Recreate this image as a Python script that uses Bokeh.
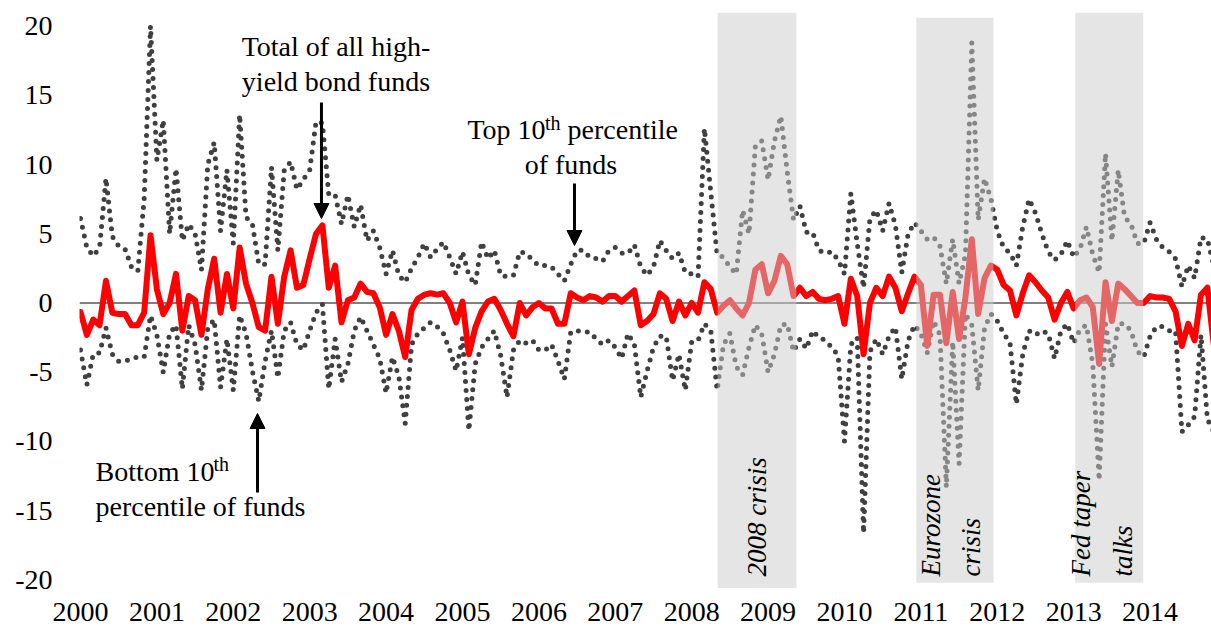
import numpy as np
from bokeh.plotting import figure
from bokeh.models import Range1d, FixedTicker, Span, Arrow, NormalHead
from bokeh.core.properties import value
from bokeh.embed import file_html
from bokeh.resources import INLINE

# ---------------- data (monthly, Jan 2000 onwards) ----------------
years = list(range(2000, 2015))
y_ticks = [-20, -15, -10, -5, 0, 5, 10, 15, 20]

total = [-0.65, -2.3, -1.2, -1.6, 1.6, -0.7, -0.8, -0.8, -1.6, -1.6,
         -0.7, 4.9, 1.0, -0.8, 0.0, 2.1, -2.0, 0.5, 0.2, -2.3,
         1.0, 3.2, -0.7, 2.1, -0.4, 4.0, 1.4, 0.0, -1.75, -2.0,
         1.9, -1.5, 1.9, 3.8, 1.1, 1.3, 3.2, 5.0, 5.6, 1.1,
         2.7, -1.4, 0.2, 0.4, 1.4, 0.8, 0.7, -0.3, -2.3, -0.8,
         -2.0, -3.9, -0.5, 0.3, 0.6, 0.7, 0.6, 0.7, 0.0, -1.4,
         0.1, -3.7, -1.8, -0.6, 0.1, 0.3, -0.5, -1.5, -2.4, 0.0,
         -0.9, -0.3, 0.0, -0.4, -0.4, -1.5, -1.5, 0.7, 0.4, 0.2,
         0.5, 0.4, 0.1, 0.5, 0.5, 0.1, 0.5, 0.9, -1.6, -1.3,
         -0.8, 0.7, 0.3, -1.3, 0.1, -0.9, 0.0, -0.7, 1.5, 1.0,
         -0.7, -0.2, 0.2, -0.4, -0.9, 0.0, 2.4, 2.8, 0.7, 1.6,
         3.4, 2.8, 0.5, 1.1, 0.5, 0.8, 0.3, 0.2, 0.3, 0.5,
         -1.5, 1.75, 0.5, -3.7, 0.0, 1.1, 0.5, 1.9, 1.1, -0.6,
         0.7, 1.9, 1.3, -3.1, 0.6, 0.6, -2.9, 0.8, -2.6, 0.4,
         4.6, -0.8, 1.8, 2.7, 2.4, 1.3, 0.9, -0.9, 0.7, 2.0,
         1.5, 0.9, 0.4, -1.2, 0.0, 0.8, -0.4, 0.2, 0.4, -0.3,
         -4.4, 1.5, -1.3, 1.4, 1.0, 0.5, 0.0, 0.0, 0.5, 0.4,
         0.4, 0.3, -0.6, -3.1, -1.5, -2.7, 0.6, 1.1, -3.0]

top10 = [6.1, 4.0, 3.4, 4.0, 9.0, 4.8, 4.1, 3.9, 2.6, 2.3,
         7.5, 20.0, 10.3, 13.2, 5.0, 9.7, 4.5, 5.7, 5.0, 2.4,
         10.0, 11.6, 5.2, 9.6, 4.3, 13.6, 6.2, 5.7, 2.8, 2.8,
         9.8, 3.8, 9.6, 10.2, 8.2, 8.9, 9.6, 13.1, 13.0, 7.8,
         7.8, 5.7, 7.8, 5.5, 7.1, 4.5, 5.2, 4.0, 2.1, 3.8,
         2.0, 1.5, 2.5, 3.3, 4.3, 3.3, 3.9, 4.4, 3.3, 2.1,
         3.7, 2.0, 1.3, 4.4, 3.2, 3.8, 2.0, 1.9, 2.0, 3.7,
         3.6, 3.1, 2.7, 2.7, 2.6, 2.1, 1.6, 2.8, 3.8, 3.8,
         3.3, 3.2, 3.0, 3.8, 4.0, 3.6, 3.6, 4.2, 2.6, 2.0,
         2.6, 4.5, 3.8, 3.2, 3.6, 2.2, 2.1, 1.9, 12.6, 8.0,
         3.5, 3.3, 2.6, 2.1, 6.7, 5.0, 11.3, 11.7, 8.9, 11.7,
         13.5, 9.5, 6.0, 7.0, 5.1, 5.1, 3.8, 3.6, 3.7, 3.1,
         2.1, 7.9, 4.3, 1.1, 6.1, 6.7, 5.2, 7.2, 5.6, 2.2,
         5.0, 5.8, 5.2, 4.6, 4.75, 4.1, 1.4, 4.6, 1.4, 3.5,
         18.8, 6.0, 9.0, 7.5, 5.2, 4.0, 3.6, 2.7, 5.5, 7.5,
         6.5, 5.0, 3.7, 3.1, 3.5, 4.5, 3.3, 3.9, 5.5, 3.5,
         2.2, 10.8, 4.5, 9.6, 6.2, 5.7, 4.3, 4.3, 5.8, 4.6,
         4.0, 3.7, 3.2, 1.2, 2.7, 1.8, 4.75, 4.6, 2.7]

bottom10 = [-3.4, -5.9, -3.7, -3.6, -1.8, -3.7, -4.2, -4.2, -4.0, -3.9,
            -3.9, -0.9, -2.3, -5.0, -2.2, -1.6, -6.2, -1.6, -3.0, -6.3,
            -1.8, -1.2, -6.1, -2.6, -6.3, -0.9, -2.2, -4.9, -7.1, -4.2,
            -2.0, -5.4, -2.0, -1.4, -3.0, -3.4, -2.0, -0.7, -0.1, -6.2,
            -2.6, -5.7, -4.4, -2.0, -1.0, -2.0, -3.0, -4.0, -6.5, -3.9,
            -5.3, -8.7, -3.0, -2.2, -1.8, -1.4, -1.7, -2.2, -3.4, -4.9,
            -2.5, -9.2, -4.4, -3.2, -2.6, -2.0, -3.8, -6.8, -3.4, -2.7,
            -2.9, -2.7, -3.4, -3.4, -3.0, -4.2, -5.5, -2.1, -2.0, -2.1,
            -2.1, -2.6, -3.0, -2.7, -3.2, -4.0, -2.2, -3.0, -6.8, -4.9,
            -3.2, -2.4, -2.4, -5.6, -3.7, -6.3, -2.8, -2.7, -1.5, -2.0,
            -6.3, -3.0, -2.2, -4.6, -5.2, -3.2, -1.6, -2.2, -5.0, -3.7,
            -1.6, -1.5, -3.5, -2.6, -3.3, -2.0, -2.5, -2.7, -3.2, -3.8,
            -10.0, -3.0, -2.5, -16.6, -3.5, -2.6, -3.7, -2.4, -1.75, -5.5,
            -2.7, -1.6, -2.2, -3.6, -1.3, -2.3, -13.3, -2.8, -11.6, -0.8,
            -1.6, -6.3, -1.8, -0.8, -1.3, -2.2, -2.9, -7.3, -3.7, -2.0,
            -2.3, -2.0, -2.2, -4.0, -2.0, -1.5, -2.9, -1.9, -1.6, -4.4,
            -12.8, -1.5, -4.6, -1.5, -1.5, -2.0, -3.5, -3.9, -2.4, -1.7,
            -1.7, -2.0, -2.0, -9.3, -8.8, -8.2, -2.3, -8.4, -9.3]

# shaded episodes (fractional years)
shade_start = [2008.34, 2010.94, 2013.02]
shade_end = [2009.37, 2011.95, 2013.91]
shade_top = [20.97, 20.6, 20.97]
shade_bottom = [-20.6, -20.2, -20.2]

month_x = 2000 + np.arange(len(total)) / 12.0

FONT = value("Liberation Serif")

p = figure(width=1211, height=629,
           x_range=Range1d(1999.987, 2014.804),
           y_range=Range1d(-20.614, 20.975),
           output_backend="svg", toolbar_location=None,
           min_border_left=79, min_border_right=0,
           min_border_top=12, min_border_bottom=41)
p.outline_line_color = None
p.grid.visible = False
p.background_fill_color = "white"
p.border_fill_color = "white"

# axes
for ax in (p.xaxis[0], p.yaxis[0]):
    ax.axis_line_color = None
    ax.major_tick_line_color = None
    ax.minor_tick_line_color = None
    ax.major_tick_out = 0
    ax.major_tick_in = 0
    ax.major_label_text_font = "Liberation Serif"
    ax.major_label_text_font_size = "28px"
    ax.major_label_text_color = "black"

p.yaxis.ticker = FixedTicker(ticks=y_ticks)
p.yaxis.major_label_overrides = {t: str(t) for t in y_ticks}
p.yaxis.major_label_standoff = 27
p.xaxis.ticker = FixedTicker(ticks=years)
p.xaxis.major_label_overrides = {t: str(t) for t in years}
p.xaxis.major_label_standoff = 14

# zero line
p.add_layout(Span(location=0, dimension="width", line_color="#808080",
                  line_width=2, level="underlay"))

# series
p.line(month_x, top10, line_color="#404040", line_width=5,
       line_dash="0 9", line_cap="round", line_join="round")
p.line(month_x, bottom10, line_color="#404040", line_width=5,
       line_dash="0 9", line_cap="round", line_join="round")
p.line(month_x, total, line_color="#FF0000", line_width=6,
       line_join="round", line_cap="round")

# shaded periods drawn over the lines (semi-transparent)
p.quad(left=shade_start, right=shade_end, top=shade_top, bottom=shade_bottom,
       fill_color="#CCCCCC", fill_alpha=0.5, line_color=None)


def txt(x, y, s, size="28px", align="left", angle=0.0, style="normal"):
    p.text(x=[x], y=[y], text=[s], text_font=FONT, text_font_size=size,
           text_align=align, text_baseline="alphabetic", angle=angle,
           text_font_style=style, text_color="black")


# rotated episode labels
rot = np.pi / 2
txt(2008.85, -19.75, "2008 crisis", size="27px", angle=rot, style="italic")
txt(2011.126, -19.75, "Eurozone", size="27px", angle=rot, style="italic")
txt(2011.65, -19.75, "crisis", size="27px", angle=rot, style="italic")
txt(2013.09, -19.75, "Fed taper", size="27px", angle=rot, style="italic")
txt(2013.64, -19.75, "talks", size="27px", angle=rot, style="italic")

# annotations
txt(2003.344, 18.55, "Total of all high-", align="center")
txt(2003.344, 16.02, "yield bond funds", align="center")

txt(2005.065, 12.53, "Top 10")
txt(2006.08, 13.0, "th", size="20px")
txt(2006.375, 12.53, "percentile")
txt(2006.42, 10.01, "of funds", align="center")

txt(2000.196, -12.14, "Bottom 10")
txt(2001.74, -11.65, "th", size="20px")
txt(2000.196, -14.67, "percentile of funds")

head = dict(size=15, fill_color="black", line_color="black")
p.add_layout(Arrow(end=NormalHead(**head), x_start=2003.154, y_start=14.48,
                   x_end=2003.154, y_end=6.10, line_width=3, line_color="black"))
p.add_layout(Arrow(end=NormalHead(**head), x_start=2006.466, y_start=8.63,
                   x_end=2006.466, y_end=4.15, line_width=3, line_color="black"))
p.add_layout(Arrow(end=NormalHead(**head), x_start=2002.317, y_start=-13.68,
                   x_end=2002.317, y_end=-7.98, line_width=3, line_color="black"))

open("out.html", "w").write(file_html(p, INLINE))
